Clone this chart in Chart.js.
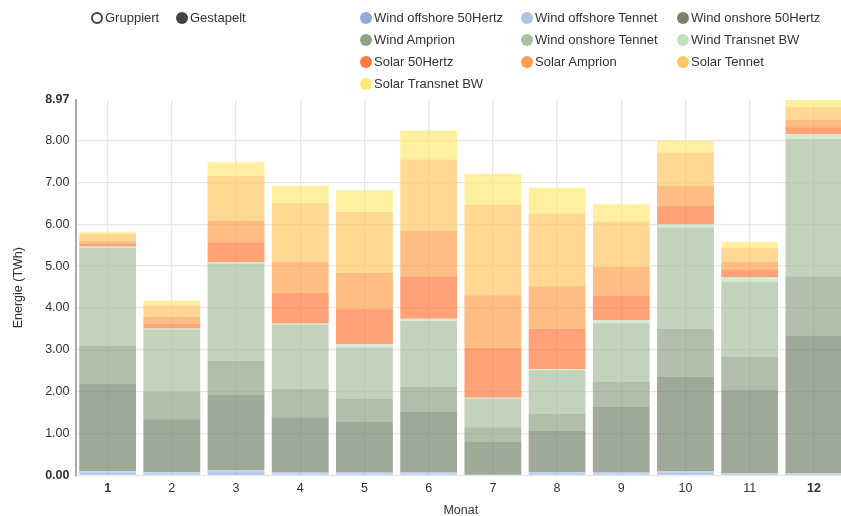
<!DOCTYPE html>
<html>
<head>
<meta charset="utf-8">
<script src="https://cdn.jsdelivr.net/npm/chart.js@4"></script>
<style>
  html, body { margin:0; padding:0; overflow:hidden; background:#fff; width:841px; height:516px; }
  #wrap { position:absolute; left:0; top:0; width:846px; height:516px; }
  .lg { position:absolute; font-family:"Liberation Sans", Arial, sans-serif; font-size:13px; color:#333; white-space:nowrap; line-height:14px; }
  .dot { position:absolute; width:12px; height:12px; border-radius:50%; }
</style>
</head>
<body>
<div id="wrap"><canvas id="c" width="846" height="516"></canvas></div>
<div id="legend"></div>
<script>
// ---- data (TWh per month) ----
const months = ['1','2','3','4','5','6','7','8','9','10','11','12'];
const windOffshore50Hertz = [0.06,0.04,0.07,0.04,0.04,0.04,0.01,0.05,0.04,0.06,0.03,0.03];
const windOffshoreTennet  = [0.04,0.03,0.05,0.025,0.024,0.024,0.006,0.03,0.024,0.036,0.018,0.018];
const windOnshore50Hertz  = [2.08,1.27,1.80,1.325,1.22,1.45,0.78,0.99,1.58,2.26,1.99,3.29];
const windAmprion         = [0.91,0.66,0.815,0.68,0.55,0.605,0.35,0.40,0.59,1.14,0.80,1.42];
const windOnshoreTennet   = [2.34,1.48,2.325,1.53,1.22,1.57,0.68,1.04,1.40,2.425,1.79,3.28];
const windTransnetBW      = [0.04,0.03,0.03,0.03,0.08,0.05,0.03,0.03,0.08,0.08,0.11,0.12];
const solar50Hertz        = [0.06,0.12,0.48,0.73,0.84,1.02,1.19,0.96,0.58,0.435,0.17,0.16];
const solarAmprion        = [0.075,0.16,0.51,0.74,0.87,1.085,1.26,1.02,0.685,0.48,0.19,0.18];
const solarTennet         = [0.165,0.285,1.08,1.40,1.45,1.705,2.165,1.74,1.085,0.80,0.34,0.30];
const solarTransnetBW     = [0.04,0.105,0.32,0.42,0.52,0.695,0.735,0.61,0.415,0.28,0.14,0.17];
const yTicks = [0,1,2,3,4,5,6,7,8,8.97];

const seriesNames = ['Wind offshore 50Hertz','Wind offshore Tennet','Wind onshore 50Hertz','Wind Amprion',
  'Wind onshore Tennet','Wind Transnet BW','Solar 50Hertz','Solar Amprion','Solar Tennet','Solar Transnet BW'];
const seriesData = [windOffshore50Hertz, windOffshoreTennet, windOnshore50Hertz, windAmprion,
  windOnshoreTennet, windTransnetBW, solar50Hertz, solarAmprion, solarTennet, solarTransnetBW];
const seriesColors = [[143,170,220],[173,197,230],[117,133,107],[143,163,134],[169,193,158],[197,223,191],
  [255,122,61],[255,160,79],[255,199,98],[255,233,119]];
const ALPHA = 0.7;

const FONT = '"Liberation Sans", Arial, sans-serif';
const datasets = seriesNames.map((n,i)=>({
  label:n, data:seriesData[i],
  backgroundColor:`rgba(${seriesColors[i].join(',')},${ALPHA})`,
  borderWidth:0, stack:'s'
}));

const lastY = yTicks.length - 1;
new Chart(document.getElementById('c'), {
  type:'bar',
  data:{ labels:months, datasets },
  options:{
    responsive:false, animation:false,
    layout:{ padding:{ top:100, left:0, right:0, bottom:0 } },
    datasets:{ bar:{ categoryPercentage:1, barPercentage:0.885 } },
    plugins:{ legend:{ display:false }, tooltip:{ enabled:false } },
    scales:{
      x:{
        stacked:true, offset:true,
        grid:{ offset:false, color:'#e6e6e6', lineWidth:1.3, drawTicks:false },
        border:{ display:false },
        ticks:{ padding:6, color:'#333',
          font:(ctx)=>({ family:FONT, size:12.5, weight:(ctx.index===0||ctx.index===months.length-1)?'bold':'normal' }) },
        title:{ display:true, text:'Monat', color:'#333', font:{ family:FONT, size:12.5 }, padding:{ top:0, bottom:-2 } },
        afterFit:(s)=>{ s.height = 40.7; }
      },
      y:{
        stacked:true, min:0, max:yTicks[lastY],
        afterBuildTicks:(s)=>{ s.ticks = yTicks.map(v=>({value:v})); },
        grid:{ color:(ctx)=> ctx.index===lastY ? 'rgba(0,0,0,0)' : '#e6e6e6', lineWidth:1.3, drawTicks:false },
        border:{ display:true, color:'#aaaaaa', width:2 },
        ticks:{ padding:6, color:'#333', callback:(v)=>Number(v).toFixed(2),
          font:(ctx)=>({ family:FONT, size:12.5, weight:(ctx.index===0||ctx.index===lastY)?'bold':'normal' }) },
        title:{ display:true, text:'Energie (TWh)', color:'#333', font:{ family:FONT, size:12.5 }, padding:{ top:11, bottom:0 } },
        afterFit:(s)=>{ s.width = 75.5; }
      }
    }
  }
});

// ---- HTML legend ----
const lg = document.getElementById('legend');
function addItem(cx, cy, text, style){
  const d = document.createElement('div'); d.className='dot';
  d.style.left=(cx-6)+'px'; d.style.top=(cy-6)+'px';
  Object.assign(d.style, style); lg.appendChild(d);
  const t = document.createElement('div'); t.className='lg';
  t.style.left=(cx+8)+'px'; t.style.top=(cy-7)+'px'; t.textContent=text; lg.appendChild(t);
}
addItem(97, 18, 'Gruppiert', { border:'2px solid #444', width:'8px', height:'8px', background:'#fff' });
addItem(182, 18, 'Gestapelt', { background:'#444' });
const colX = [366, 527, 683], rowY = [18, 40, 62, 84];
seriesNames.forEach((n,i)=>{
  addItem(colX[i%3], rowY[Math.floor(i/3)], n, { background:`rgb(${seriesColors[i].join(',')})` });
});
</script>
</body>
</html>
